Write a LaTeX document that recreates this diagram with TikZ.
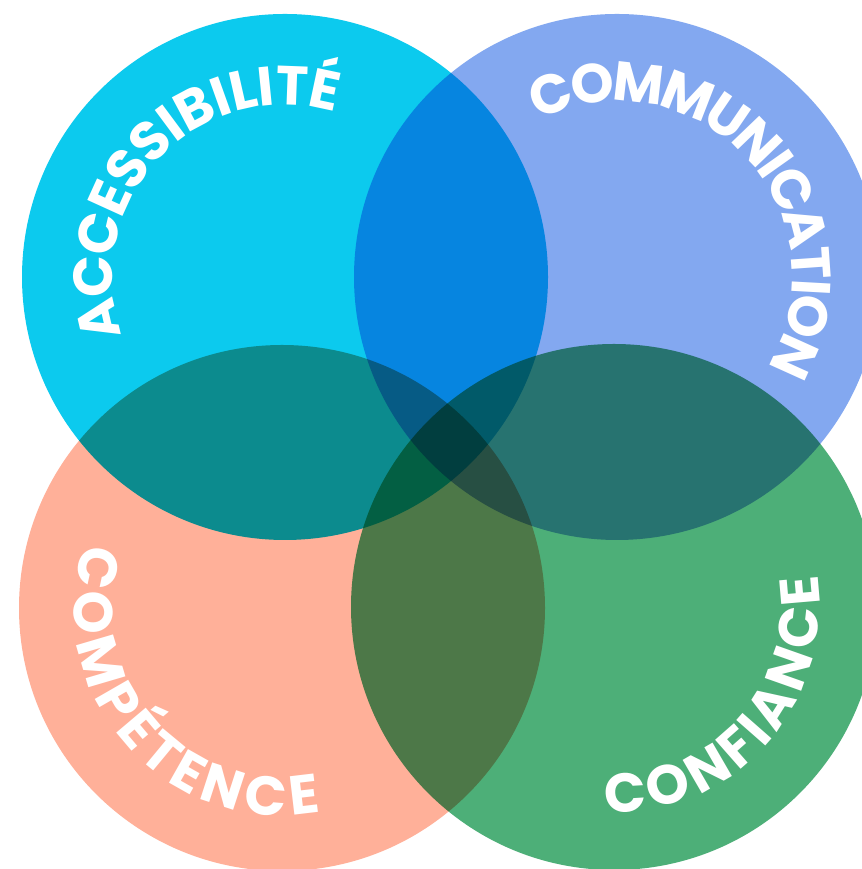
\documentclass[tikz,border=0pt]{standalone}
\usepackage{fontspec}
\newfontfamily\lblfont{Poppins}
\usetikzlibrary{decorations.text}
\definecolor{cCyan}{RGB}{12,202,238}
\definecolor{cBlue}{RGB}{131,168,240}
\definecolor{cSalmon}{RGB}{255,176,153}
\definecolor{cGreen}{RGB}{77,175,120}
\tikzset{
  disc/.style={fill=#1, draw=none},
  arctext/.style={decorate, decoration={text along path, text={|\lblfont\bfseries\fontsize{55}{62}\selectfont\color{white}|#1},
      text align={fit to path}, raise=-19.5pt}}
}
\begin{document}
\begin{tikzpicture}[x=1pt,y=1pt]
\fill[white] (0,0) rectangle (861,869);
\useasboundingbox (0,0) rectangle (861,869);
\coordinate (cA) at (285,592);
\coordinate (cB) at (617,592);
\coordinate (cC) at (282,261);
\coordinate (cD) at (614,262);
\begin{scope}[blend group=multiply]
  \fill[disc=cSalmon] (cC) circle[radius=263];
  \fill[disc=cGreen] (cD) circle[radius=263];
  \fill[disc=cCyan] (cA) circle[radius=263];
  \fill[disc=cBlue] (cB) circle[radius=263];
\end{scope}
% ACCESSIBILITE (clockwise)
\path[arctext={ACCESSIBILITÉ}] ([shift={(199:192)}]cA) arc[start angle=199, end angle=73.5, radius=192];
% COMMUNICATION (clockwise)
\path[arctext={COMMUNICATION}] ([shift={(116:195)}]cB) arc[start angle=116, end angle=-29.5, radius=195];
% COMPETENCE (counterclockwise)
\path[arctext={COMPÉTENCE}] ([shift={(161.5:188)}]cC) arc[start angle=161.5, end angle=281.3, radius=188];
% CONFIANCE (counterclockwise)
\path[arctext={CONFIANCE}] ([shift={(267:186)}]cD) arc[start angle=267, end angle=369.5, radius=186];
\end{tikzpicture}
\end{document}
